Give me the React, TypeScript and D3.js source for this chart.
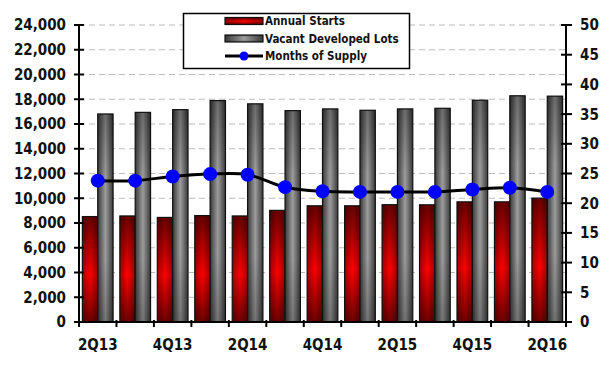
import React, { useEffect, useRef } from 'react';
import * as d3 from 'd3';

const width = 611;
const height = 367;
const padding = { left: 79, right: 45, top: 25, down: 45 };

const quarters = ['2Q13', '3Q13', '4Q13', '1Q14', '2Q14', '3Q14', '4Q14', '1Q15', '2Q15', '3Q15', '4Q15', '1Q16', '2Q16'];
const annualStarts = [8520, 8570, 8450, 8600, 8570, 9020, 9390, 9390, 9480, 9470, 9710, 9710, 10010];
const vacantLots = [16810, 16940, 17160, 17890, 17630, 17080, 17220, 17110, 17220, 17270, 17920, 18280, 18250];
const monthsSupply = [23.8, 23.8, 24.5, 24.9, 24.8, 22.7, 22.0, 21.9, 21.9, 21.9, 22.3, 22.6, 21.9];
const leftTicks = [0, 2000, 4000, 6000, 8000, 10000, 12000, 14000, 16000, 18000, 20000, 22000, 24000];
const rightTicks = [0, 5, 10, 15, 20, 25, 30, 35, 40, 45, 50];
const seriesNames = ['Annual Starts', 'Vacant Developed Lots', 'Months of Supply'];

const font = "'DejaVu Sans Condensed', 'DejaVu Sans', sans-serif";

export default function App() {
  const ref = useRef<SVGSVGElement>(null);

  useEffect(() => {
    const svg = d3.select(ref.current);
    svg.selectAll('*').remove();

    const x0 = padding.left;
    const x1 = width - padding.right;
    const yBottom = height - padding.down;

    const xScale = d3.scaleBand().domain(quarters).range([x0, x1]);
    const subScale = d3.scaleBand().domain(['starts', 'lots'])
      .range([0, xScale.bandwidth()]).paddingOuter(0.22);
    const yLeft = d3.scaleLinear().domain([0, 24000]).range([yBottom, padding.top]);
    const yRight = d3.scaleLinear().domain([0, 50]).range([yBottom, padding.top]);

    // gradients (base + shading overlay)
    const defs = svg.append('defs');
    const lin = (id, x2, y2, stops) => {
      const g = defs.append('linearGradient').attr('id', id)
        .attr('x1', 0).attr('y1', 0).attr('x2', x2).attr('y2', y2);
      stops.forEach(([o, c, a]) => g.append('stop').attr('offset', o)
        .attr('stop-color', c).attr('stop-opacity', a));
    };
    lin('redBase', 0, 1, [[0, '#6a0000', 1], [0.55, '#ff0000', 1], [1, '#700000', 1]]);
    lin('redShade', 1, 0, [[0, '#000', 0.35], [0.5, '#000', 0], [1, '#000', 0.35]]);
    lin('grayBase', 1, 0, [[0, '#3a3a3a', 1], [0.5, '#9c9c9c', 1], [1, '#3a3a3a', 1]]);
    lin('grayShade', 0, 1, [[0, '#000', 0.3], [0.3, '#000', 0], [0.7, '#000', 0], [1, '#000', 0.25]]);

    // gridlines
    svg.append('g').selectAll('line')
      .data(leftTicks.filter(d => d > 0))
      .join('line')
      .attr('x1', x0).attr('x2', x1)
      .attr('y1', d => yLeft(d)).attr('y2', d => yLeft(d))
      .attr('stroke', '#bcbcbc').attr('stroke-width', 1)
      .attr('stroke-dasharray', '6,4');

    // bars
    const drawBar = (g, x, y, w, h, base, shade) => {
      g.append('rect').attr('x', x).attr('y', y).attr('width', w).attr('height', h)
        .attr('fill', `url(#${base})`);
      g.append('rect').attr('x', x).attr('y', y).attr('width', w).attr('height', h)
        .attr('fill', `url(#${shade})`).attr('stroke', '#111').attr('stroke-width', 1.2);
    };
    const bars = svg.append('g');
    quarters.forEach((q, i) => {
      const bx = xScale(q);
      drawBar(bars, bx + subScale('starts'), yLeft(annualStarts[i]), subScale.bandwidth(),
        yBottom - yLeft(annualStarts[i]), 'redBase', 'redShade');
      drawBar(bars, bx + subScale('lots'), yLeft(vacantLots[i]), subScale.bandwidth(),
        yBottom - yLeft(vacantLots[i]), 'grayBase', 'grayShade');
    });

    // left axis
    const axisG = svg.append('g');
    axisG.append('line').attr('x1', x0).attr('x2', x0)
      .attr('y1', padding.top).attr('y2', yBottom)
      .attr('stroke', '#000').attr('stroke-width', 2);
    leftTicks.forEach(t => {
      axisG.append('line').attr('x1', x0 - 5).attr('x2', x0 + 5)
        .attr('y1', yLeft(t)).attr('y2', yLeft(t))
        .attr('stroke', '#000').attr('stroke-width', 2);
      axisG.append('text').attr('x', x0 - 13).attr('y', yLeft(t))
        .attr('dy', '0.36em').attr('text-anchor', 'end')
        .text(d3.format(',')(t));
    });

    // right axis
    axisG.append('line').attr('x1', x1).attr('x2', x1)
      .attr('y1', padding.top).attr('y2', yBottom)
      .attr('stroke', '#000').attr('stroke-width', 2);
    rightTicks.forEach(t => {
      axisG.append('line').attr('x1', x1 - 5).attr('x2', x1 + 6)
        .attr('y1', yRight(t)).attr('y2', yRight(t))
        .attr('stroke', '#000').attr('stroke-width', 2);
      axisG.append('text').attr('x', x1 + 14).attr('y', yRight(t))
        .attr('dy', '0.36em').attr('text-anchor', 'start')
        .text(t);
    });

    // x axis
    axisG.append('line').attr('x1', x0).attr('x2', x1)
      .attr('y1', yBottom).attr('y2', yBottom)
      .attr('stroke', '#000').attr('stroke-width', 2);
    quarters.concat(['end']).forEach((q, i) => {
      const tx = i < quarters.length ? xScale(q) : x1;
      axisG.append('line').attr('x1', tx).attr('x2', tx)
        .attr('y1', yBottom - 2).attr('y2', yBottom + 5)
        .attr('stroke', '#000').attr('stroke-width', 2);
    });
    quarters.forEach((q, i) => {
      if (i % 2 !== 0) return;
      axisG.append('text').attr('x', xScale(q) + xScale.bandwidth() / 2)
        .attr('y', yBottom + 28).attr('text-anchor', 'middle')
        .text(q);
    });
    axisG.selectAll('text')
      .attr('font-family', font).attr('font-stretch', 'condensed')
      .attr('font-weight', 'bold').attr('font-size', 15).attr('fill', '#111');

    // months of supply line
    const cx = (i) => xScale(quarters[i]) + xScale.bandwidth() / 2;
    const line = d3.line<number>()
      .x((d, i) => cx(i))
      .y(d => yRight(d))
      .curve(d3.curveCatmullRom.alpha(0.5));
    svg.append('path').attr('d', line(monthsSupply))
      .attr('fill', 'none').attr('stroke', '#000').attr('stroke-width', 3);
    svg.append('g').selectAll('circle')
      .data(monthsSupply)
      .join('circle')
      .attr('cx', (d, i) => cx(i)).attr('cy', d => yRight(d))
      .attr('r', 7).attr('fill', '#0000ff');

    // legend
    const lg = svg.append('g');
    lg.append('rect').attr('x', 183.5).attr('y', 13.5).attr('width', 226).attr('height', 55)
      .attr('fill', '#fff').attr('stroke', '#000').attr('stroke-width', 1.5);
    const sx = 225, sw = 38;
    const rows = [21, 38.5, 56];
    drawBar(lg, sx, rows[0] - 3.5, sw, 7, 'redBase', 'redShade');
    drawBar(lg, sx, rows[1] - 3.5, sw, 7, 'grayBase', 'grayShade');
    lg.append('line').attr('x1', sx).attr('x2', sx + sw).attr('y1', rows[2]).attr('y2', rows[2])
      .attr('stroke', '#000').attr('stroke-width', 3);
    lg.append('circle').attr('cx', sx + sw / 2).attr('cy', rows[2]).attr('r', 4.5).attr('fill', '#0000ff');
    seriesNames.forEach((n, i) => {
      lg.append('text').attr('x', sx + sw + 2).attr('y', rows[i]).attr('dy', '0.36em')
        .attr('font-family', font).attr('font-stretch', 'condensed')
        .attr('font-weight', 'bold').attr('font-size', 11.5).attr('fill', '#111')
        .text(n);
    });
  }, []);

  return <svg ref={ref} width={width} height={height}
    style={{ position: 'absolute', left: 0, top: 0, background: '#fff' }} />;
}
